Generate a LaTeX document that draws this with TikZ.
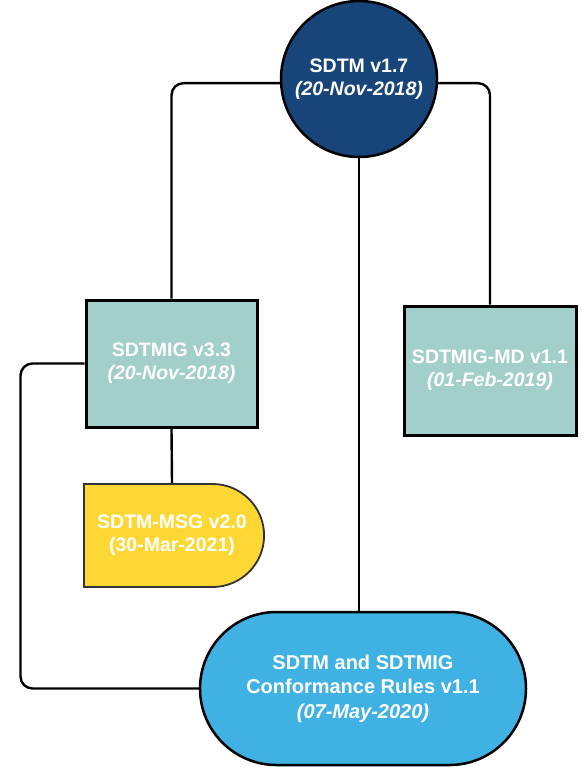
\documentclass[tikz,border=0pt]{standalone}
\usepackage{fontspec}
\setmainfont{Liberation Sans}
\usetikzlibrary{shapes.misc}
\definecolor{darkblue}{HTML}{17457A}
\definecolor{teal}{HTML}{A3CFCA}
\definecolor{yellowbox}{HTML}{FDD835}
\definecolor{lightblue}{HTML}{40B1E3}
\begin{document}
\begin{tikzpicture}[x=1pt,y=-1pt,
  txt/.style={text=white,font=\fontsize{19.5}{23}\selectfont\bfseries,align=center,inner sep=0pt},
  circ/.style={txt,circle,fill=darkblue,draw=black,line width=2.5pt,minimum size=156pt},
  migbox/.style={txt,rectangle,fill=teal,draw=black,line width=3pt},
  msgbox/.style={txt,rounded rectangle,rounded rectangle left arc=none,fill=yellowbox,draw=black!80,line width=1.8pt,minimum width=180pt,minimum height=103pt},
  confbox/.style={txt,rounded rectangle,fill=lightblue,draw=black,line width=2.5pt,minimum width=326pt,minimum height=153pt,font=\fontsize{20}{24.5}\selectfont\bfseries},
  conn/.style={draw=black,line width=2.4pt,rounded corners=12pt}]
\useasboundingbox (0,0) rectangle (581,767);
\node[circ] (sdtm) at (359,79) {SDTM v1.7\\\textit{(20-Nov-2018)}};
\node[migbox,minimum width=171pt,minimum height=127pt] (mig) at (171.5,363.5) {SDTMIG v3.3\\\textit{(20-Nov-2018)}};
\node[migbox,minimum width=172pt,minimum height=129pt] (md) at (490,370.5) {SDTMIG-MD v1.1\\\textit{(01-Feb-2019)}};
\node[msgbox] (msg) at (172,535.5) {SDTM-MSG v2.0\\(30-Mar-2021)};
\node[confbox] (conf) at (363,688.5) {SDTM and SDTMIG\\Conformance Rules v1.1\\\textit{(07-May-2020)}};
\draw[conn] (sdtm.183) -| (mig.north);
\draw[conn] (sdtm.-3) -| (md.north);
\draw[conn] (sdtm.south) -- (sdtm.south |- conf.north);
\draw[conn] (mig.south) -- (msg.north);
\draw[conn] (mig.west) -- ++(-64,0) |- (conf.west);
\end{tikzpicture}
\end{document}
